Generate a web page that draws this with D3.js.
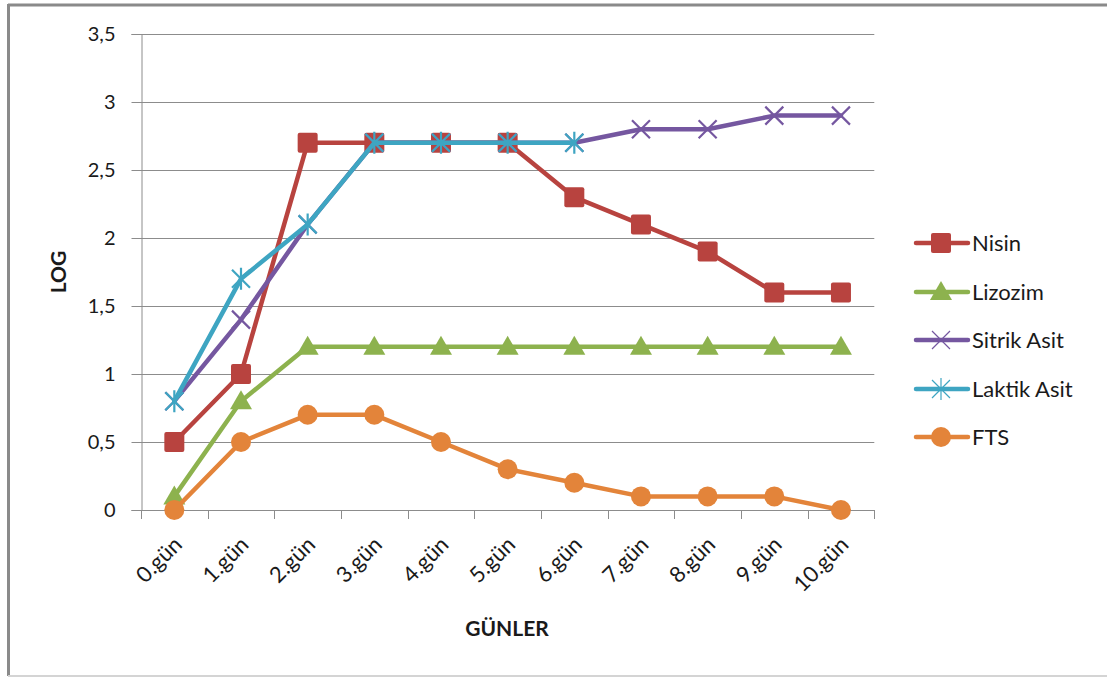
<!DOCTYPE html>
<html>
<head>
<meta charset="utf-8">
<script src="https://cdn.jsdelivr.net/npm/d3@7"></script>
<style>
  html, body { margin: 0; padding: 0; background: #fff; }
  svg { display: block; }
  text { font-family: Lato, "Open Sans", sans-serif; fill: #1a1a1a; }
</style>
</head>
<body>
<svg id="chart" width="1107" height="677"></svg>
<script>
// Days on the horizontal axis
const categories = ["0.gün", "1.gün", "2.gün", "3.gün", "4.gün", "5.gün", "6.gün", "7.gün", "8.gün", "9.gün", "10.gün"];

// Log counts per treatment (null = no measurement)
const nisin      = [0.5, 1.0, 2.7, 2.7, 2.7, 2.7, 2.3, 2.1, 1.9, 1.6, 1.6];
const lizozim    = [0.1, 0.8, 1.2, 1.2, 1.2, 1.2, 1.2, 1.2, 1.2, 1.2, 1.2];
const sitrikAsit = [0.8, 1.4, 2.1, 2.7, 2.7, 2.7, 2.7, 2.8, 2.8, 2.9, 2.9];
const laktikAsit = [0.8, 1.7, 2.1, 2.7, 2.7, 2.7, 2.7, null, null, null, null];
const fts        = [0.0, 0.5, 0.7, 0.7, 0.5, 0.3, 0.2, 0.1, 0.1, 0.1, 0.0];

const yTicks = [0, 0.5, 1, 1.5, 2, 2.5, 3, 3.5];

const seriesNames  = ["Nisin", "Lizozim", "Sitrik Asit", "Laktik Asit", "FTS"];
const seriesValues = [nisin, lizozim, sitrikAsit, laktikAsit, fts];
const seriesColors = ["#b8433f", "#8db24e", "#7557a0", "#3ea5c2", "#e3843a"];
const seriesMarkers = ["square", "triangle", "x", "asterisk", "circle"];

const svg = d3.select("#chart");

// Outer chart frame
svg.append("line").attr("x1", 8).attr("x2", 1107).attr("y1", 5).attr("y2", 5)
  .attr("stroke", "#8a8a8a").attr("stroke-width", 3);
svg.append("line").attr("x1", 8.5).attr("x2", 8.5).attr("y1", 4).attr("y2", 676)
  .attr("stroke", "#8a8a8a").attr("stroke-width", 3);
svg.append("line").attr("x1", 8).attr("x2", 1107).attr("y1", 676).attr("y2", 676)
  .attr("stroke", "#d4d4d4").attr("stroke-width", 2);

const plot = { left: 141, right: 874.3, top: 34, bottom: 510 };

const x = d3.scaleBand().domain(categories).range([plot.left, plot.right]);
const y = d3.scaleLinear().domain([0, 3.5]).range([plot.bottom, plot.top]);
const cx = c => x(c) + x.bandwidth() / 2;

// Horizontal gridlines
svg.append("g").selectAll("line").data(yTicks.filter(d => d > 0)).join("line")
  .attr("x1", plot.left).attr("x2", plot.right)
  .attr("y1", d => Math.round(y(d)) + 0.5).attr("y2", d => Math.round(y(d)) + 0.5)
  .attr("stroke", "#8c8c8c").attr("stroke-width", 1);

// Y axis
const yAxis = svg.append("g")
  .attr("transform", `translate(${plot.left + 0.5},0)`)
  .call(d3.axisLeft(y).tickValues(yTicks).tickSize(10).tickPadding(16)
    .tickFormat(d => String(d).replace(".", ",")));
yAxis.select(".domain").attr("stroke", "#8c8c8c");
yAxis.selectAll(".tick line").attr("stroke", "#8c8c8c");
yAxis.selectAll(".tick text").attr("font-size", 20).attr("fill", "#1a1a1a")
  .attr("font-family", "Lato, sans-serif");

// X axis with ticks at the category boundaries
const xg = svg.append("g");
xg.append("line").attr("x1", plot.left).attr("x2", plot.right)
  .attr("y1", plot.bottom + 0.5).attr("y2", plot.bottom + 0.5).attr("stroke", "#8c8c8c");
const boundaries = categories.map(c => x(c)).concat([plot.right]);
xg.selectAll("line.tk").data(boundaries).join("line").attr("class", "tk")
  .attr("x1", d => Math.round(d) + 0.5).attr("x2", d => Math.round(d) + 0.5)
  .attr("y1", plot.bottom).attr("y2", plot.bottom + 9).attr("stroke", "#8c8c8c");
xg.selectAll("text").data(categories).join("text")
  .attr("transform", d => `translate(${cx(d) + 9},${plot.bottom + 36}) rotate(-45)`)
  .attr("text-anchor", "end").attr("font-size", 22).text(d => d);

// Axis titles
svg.append("text").attr("transform", "translate(66,272) rotate(-90)")
  .attr("text-anchor", "middle").attr("font-size", 21).attr("font-weight", "bold").text("LOG");
svg.append("text").attr("x", 507).attr("y", 636)
  .attr("text-anchor", "middle").attr("font-size", 21).attr("font-weight", "bold").text("GÜNLER");

// Marker drawing
function drawMarker(g, type, color, legend) {
  if (type === "square") {
    g.append("rect").attr("x", -10).attr("y", -10).attr("width", 20).attr("height", 20)
      .attr("rx", 2).attr("fill", color);
  } else if (type === "triangle") {
    g.append("path").attr("d", "M0,-11L11,8L-11,8Z").attr("fill", color);
  } else if (type === "circle") {
    g.append("circle").attr("r", 10).attr("fill", color);
  } else if (type === "x" || type === "asterisk") {
    const s = 9;
    const w = legend ? 1.2 : 2.2;
    g.append("path").attr("d", `M${-s},${-s}L${s},${s}M${-s},${s}L${s},${-s}` +
      (type === "asterisk" ? `M0,${-s - 2}L0,${s + 2}` : ""))
      .attr("stroke", color).attr("stroke-width", w).attr("fill", "none");
  }
}

const line = d3.line()
  .defined(d => d.v !== null)
  .x(d => cx(d.c)).y(d => y(d.v));

seriesValues.forEach((vals, i) => {
  const pts = vals.map((v, j) => ({ c: categories[j], v }));
  const g = svg.append("g");
  g.append("path").datum(pts).attr("d", line).attr("fill", "none")
    .attr("stroke", seriesColors[i]).attr("stroke-width", 4.5)
    .attr("stroke-linejoin", "round").attr("stroke-linecap", "round");
  pts.filter(p => p.v !== null).forEach(p => {
    drawMarker(g.append("g").attr("transform", `translate(${cx(p.c)},${y(p.v)})`),
      seriesMarkers[i], seriesColors[i], false);
  });
});

// Legend
const legendRows = [243, 292, 340, 389, 437];
seriesNames.forEach((name, i) => {
  const g = svg.append("g").attr("transform", `translate(0,${legendRows[i]})`);
  g.append("line").attr("x1", 916).attr("x2", 968).attr("y1", 0).attr("y2", 0)
    .attr("stroke", seriesColors[i]).attr("stroke-width", 4.5).attr("stroke-linecap", "round");
  drawMarker(g.append("g").attr("transform", "translate(941,0)"), seriesMarkers[i],
    seriesColors[i], true);
  g.append("text").attr("x", 972).attr("y", 8).attr("font-size", 22).text(name);
});
</script>
</body>
</html>
